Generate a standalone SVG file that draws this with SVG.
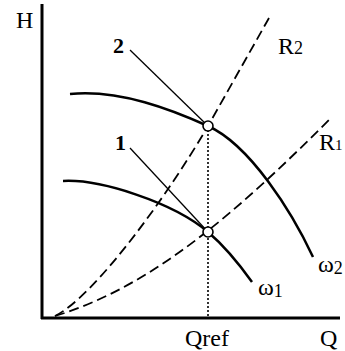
<svg xmlns="http://www.w3.org/2000/svg" width="345" height="351" viewBox="0 0 345 351">
<style>
.lbl{font-size:24px}
.sub{font-size:18px}
.num{font-size:22px;font-weight:bold}
.axis{stroke:#000;stroke-width:3;fill:none}
.curve{stroke:#000;stroke-width:2.5;fill:none}
.sys{stroke:#000;stroke-width:1.8;fill:none;stroke-dasharray:10,5}
.lead{stroke:#000;stroke-width:1.3;fill:none}
.dot{stroke:#000;stroke-width:1.6;fill:none;stroke-dasharray:2,2}
.pt{stroke:#000;stroke-width:1.6;fill:#fff}
</style>
<g font-family="'Liberation Serif', 'Times New Roman', 'DejaVu Serif', serif" fill="#000">
<g id="axes">
<line class="axis" x1="42" y1="4" x2="42" y2="319"/>
<line class="axis" x1="41" y1="318" x2="340" y2="318"/>
<text class="lbl" x="16" y="28">H</text>
<text class="lbl" x="320" y="346">Q</text>
<text class="lbl" x="185" y="346">Qref</text>
</g>
<g id="connectors">
<line class="dot" x1="208" y1="126" x2="208" y2="317"/>
<path class="sys" d="M55,316 C95,296 168,194.8 208,126 L269,18"/>
<path class="sys" d="M55,316 C155,286 242,207 332,117"/>
<line class="lead" x1="130" y1="50" x2="208" y2="126"/>
<line class="lead" x1="130" y1="148" x2="208" y2="232"/>
</g>
<g id="omega2">
<path class="curve" d="M70,94 C120,89 173,110.25 208,126 C250,145 292,212 313,257"/>
<text class="lbl" x="318" y="272">ω<tspan class="sub" dy="2">2</tspan></text>
</g>
<g id="omega1">
<path class="curve" d="M63,181 C100,179 173,202.25 208,232 C223,244.75 240,265.2 252,282"/>
<text class="lbl" x="258" y="295">ω<tspan class="sub" dy="2">1</tspan></text>
</g>
<g id="R2">
<text class="lbl" x="278" y="54">R<tspan class="sub">2</tspan></text>
</g>
<g id="R1">
<text class="lbl" x="319" y="150">R<tspan class="sub" style="font-size:15px">1</tspan></text>
</g>
<g id="point2">
<circle class="pt" cx="208" cy="126" r="5"/>
<text class="num" x="113" y="53">2</text>
</g>
<g id="point1">
<circle class="pt" cx="208" cy="232" r="5"/>
<text class="num" x="115" y="150">1</text>
</g>
</g>
</svg>
